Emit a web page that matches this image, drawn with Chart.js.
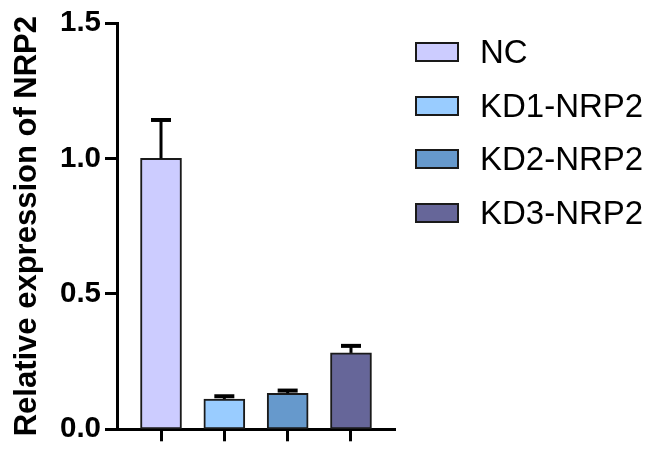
<!DOCTYPE html>
<html>
<head>
<meta charset="utf-8">
<script src="https://cdn.jsdelivr.net/npm/chart.js@4/dist/chart.umd.min.js"></script>
<style>
    body { margin: 0; background: #fff; }
    #wrap { position: relative; width: 648px; height: 451px; }
    #legend { position: absolute; left: 415px; top: 25px; font-family: 'Liberation Sans', Arial, sans-serif; }
    .legend-row { display: flex; align-items: center; height: 53.7px; }
    .legend-box { width: 44px; height: 20px; box-sizing: border-box; border: 2px solid #1a1a1a; }
    .legend-text { margin-left: 21px; font-size: 33px; color: #000; white-space: nowrap; }
</style>
</head>
<body>
<div id="wrap">
    <canvas id="nrpChart" width="648" height="451"></canvas>
    <div id="legend"></div>
</div>
<script>
// ──────────────────────────────────────────────
// Данные
// ──────────────────────────────────────────────
const GROUPS     = ['NC', 'KD1-NRP2', 'KD2-NRP2', 'KD3-NRP2'];
const MEANS      = [1.0, 0.112, 0.133, 0.282];
const ERR_UPPER  = [1.142, 0.122, 0.143, 0.308];
const COLORS     = ['#CCCCFF', '#99CCFF', '#6699CC', '#666699'];
const Y_TICKS    = [0, 0.5, 1.0, 1.5];

const FONT = "'Liberation Sans', Arial, sans-serif";

// ──────────────────────────────────────────────
// Планки погрешностей (только верхние)
// ──────────────────────────────────────────────
const errorBars = {
    id: 'errorBars',
    afterDatasetsDraw(chart) {
        const { ctx, scales: { x, y } } = chart;
        ctx.save();
        ctx.strokeStyle = '#000';
        ctx.lineCap = 'butt';
        GROUPS.forEach((_, i) => {
            const cx  = x.getPixelForValue(i);
            const top = y.getPixelForValue(ERR_UPPER[i]);
            const bar = y.getPixelForValue(MEANS[i]);
            ctx.lineWidth = 3;
            ctx.beginPath(); ctx.moveTo(cx, bar); ctx.lineTo(cx, top); ctx.stroke();
            ctx.lineWidth = 4;
            ctx.beginPath(); ctx.moveTo(cx - 10, top); ctx.lineTo(cx + 10, top); ctx.stroke();
        });
        ctx.restore();
    }
};

// ──────────────────────────────────────────────
// Легенда
// ──────────────────────────────────────────────
function buildLegend() {
    const box = document.getElementById('legend');
    box.innerHTML = GROUPS.map((g, i) =>
        `<div class="legend-row"><div class="legend-box" style="background:${COLORS[i]}"></div><span class="legend-text">${g}</span></div>`
    ).join('');
}

// ──────────────────────────────────────────────
// График
// ──────────────────────────────────────────────
function initChart() {
    const ctx = document.getElementById('nrpChart');
    new Chart(ctx, {
        type: 'bar',
        data: {
            datasets: [{
                data: MEANS.map((v, i) => ({ x: i, y: v })),
                backgroundColor: COLORS,
                borderColor: '#1a1a1a',
                borderWidth: 2,
                borderSkipped: false,
                barThickness: 41
            }]
        },
        options: {
            responsive: false,
            animation: false,
            layout: { padding: { top: 23, right: 253, bottom: 0, left: 0 } },
            plugins: { legend: { display: false }, tooltip: { enabled: false } },
            scales: {
                x: {
                    type: 'linear',
                    min: -0.695, max: 3.695,
                    offset: false,
                    afterBuildTicks: s => { s.ticks = GROUPS.map((_, i) => ({ value: i })); },
                    afterFit: s => { s.height = 18; },
                    ticks: { display: false },
                    grid: { offset: false, drawOnChartArea: false, drawTicks: true, tickLength: 12, tickWidth: 3, tickColor: '#000' },
                    border: { display: true, color: '#000', width: 3 }
                },
                y: {
                    min: 0, max: 1.5,
                    afterBuildTicks: s => { s.ticks = Y_TICKS.map(v => ({ value: v })); },
                    afterFit: s => { s.width = 117; },
                    ticks: {
                        padding: 4,
                        color: '#000',
                        font: { family: FONT, size: 29.5, weight: 'bold' },
                        callback: v => v.toFixed(1)
                    },
                    grid: { drawOnChartArea: false, drawTicks: true, tickLength: 12, tickWidth: 3, tickColor: '#000' },
                    border: { display: true, color: '#000', width: 3 },
                    title: {
                        display: true,
                        text: 'Relative expression of NRP2',
                        color: '#000',
                        padding: { top: 9, bottom: 0 },
                        font: { family: FONT, size: 31, weight: 'bold' }
                    }
                }
            }
        },
        plugins: [errorBars]
    });
}

document.addEventListener('DOMContentLoaded', function() {
    buildLegend();
    initChart();
});
</script>
</body>
</html>
